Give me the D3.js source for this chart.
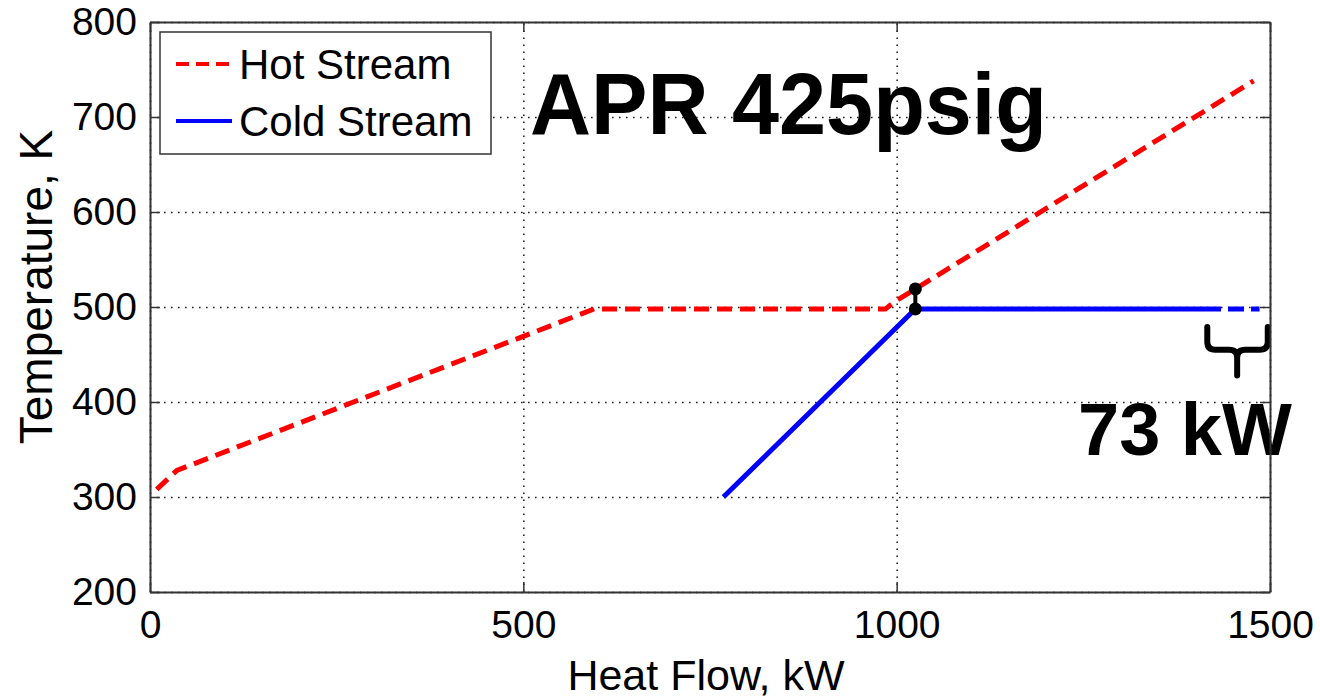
<!DOCTYPE html>
<html>
<head>
<meta charset="utf-8"/>
<script src="https://d3js.org/d3.v7.min.js"></script>
<style>
    body { margin: 0; background: #fff; }
    svg { font-family: "Liberation Sans", Arial, sans-serif; }
    .tick line { stroke: #333; stroke-width: 1.5; }
    .grid .tick line { stroke: #222; stroke-width: 1.6; stroke-dasharray: 1.6, 5.4; }
    .grid .domain { display: none; }
</style>
</head>
<body>
<svg width="1320" height="700"></svg>
<script>
    // datos
    const xTicks = [0, 500, 1000, 1500];
    const yTicks = [200, 300, 400, 500, 600, 700, 800];

    const hotQ = [9, 36, 595, 985, 1000, 1025, 1478];
    const hotT = [308, 328, 498, 498, 507, 519, 738];

    const coldQ = [768, 1025, 1413];
    const coldT = [300, 498, 498];

    // tramo de 73 kW (linea a trazos)
    const extraQ = [1413, 1486];
    const extraT = [498, 498];

    const pinchQ = 1025;
    const pinchT = [498, 519];

    const braceQ = [1416, 1456, 1497];
    const braceT = [479, 455, 428];

    const titleText = "APR 425psig";
    const noteText = "73 kW";
    const legendNames = ["Hot Stream", "Cold Stream"];

    const mLeft = 150, mRight = 1270, mTop = 22, mBottom = 592;

    const svg = d3.select("svg");

    let x = d3.scaleLinear().domain([0, 1500]).range([mLeft, mRight]);
    let y = d3.scaleLinear().domain([200, 800]).range([mBottom, mTop]);

    // rejilla punteada
    svg.append("g").attr("class", "grid")
        .attr("transform", "translate(0," + mBottom + ")")
        .call(d3.axisBottom(x).tickValues(xTicks).tickSize(-(mBottom - mTop)).tickFormat(""));
    svg.append("g").attr("class", "grid")
        .attr("transform", "translate(" + mLeft + ",0)")
        .call(d3.axisLeft(y).tickValues(yTicks).tickSize(-(mRight - mLeft)).tickFormat(""));

    // titulo y nota
    svg.append("text")
        .attr("x", 530).attr("y", 134)
        .attr("font-size", 88).attr("font-weight", "bold")
        .attr("textLength", 517).attr("lengthAdjust", "spacingAndGlyphs")
        .text(titleText);

    svg.append("text")
        .attr("x", 1078).attr("y", 455)
        .attr("font-size", 74).attr("font-weight", "bold")
        .text(noteText);

    // lineas
    const line = d3.line().x(d => x(d[0])).y(d => y(d[1]));

    svg.append("path")
        .attr("d", line(coldQ.map((q, i) => [q, coldT[i]])))
        .attr("fill", "none").attr("stroke", "#0000ff").attr("stroke-width", 5);

    svg.append("path")
        .attr("d", line(extraQ.map((q, i) => [q, extraT[i]])))
        .attr("fill", "none").attr("stroke", "#0000ff").attr("stroke-width", 5)
        .attr("stroke-dasharray", "16,7");

    svg.append("path")
        .attr("d", line(hotQ.map((q, i) => [q, hotT[i]])))
        .attr("fill", "none").attr("stroke", "#ff0000").attr("stroke-width", 5)
        .attr("stroke-dasharray", "15,8");

    // pinch
    svg.append("line")
        .attr("x1", x(pinchQ)).attr("x2", x(pinchQ))
        .attr("y1", y(pinchT[0])).attr("y2", y(pinchT[1]))
        .attr("stroke", "#000").attr("stroke-width", 4);
    svg.selectAll(".pinch").data(pinchT).join("circle")
        .attr("class", "pinch")
        .attr("cx", x(pinchQ)).attr("cy", d => y(d)).attr("r", 6.5)
        .attr("fill", "#000");

    // llave bajo el tramo de 73 kW
    const bx0 = x(braceQ[0]), bxm = x(braceQ[1]), bx1 = x(braceQ[2]);
    const by0 = y(braceT[0]), bym = y(braceT[1]), by1 = y(braceT[2]);
    const r = 8;
    const p = d3.path();
    p.moveTo(bx0, by0);
    p.lineTo(bx0, bym - r);
    p.quadraticCurveTo(bx0, bym, bx0 + r, bym);
    p.lineTo(bxm - r, bym);
    p.quadraticCurveTo(bxm, bym, bxm, bym + r);
    p.lineTo(bxm, by1);
    p.moveTo(bxm, bym + r);
    p.quadraticCurveTo(bxm, bym, bxm + r, bym);
    p.lineTo(bx1 - r, bym);
    p.quadraticCurveTo(bx1, bym, bx1, bym - r);
    p.lineTo(bx1, by0);
    svg.append("path").attr("d", p.toString())
        .attr("fill", "none").attr("stroke", "#000").attr("stroke-width", 6)
        .attr("stroke-linecap", "round");

    // ejes con marcas hacia dentro
    const xAxis = svg.append("g")
        .attr("transform", "translate(0," + mBottom + ")")
        .call(d3.axisBottom(x).tickValues(xTicks).tickFormat(d3.format("d"))
            .tickSizeInner(-10).tickSizeOuter(0).tickPadding(18));
    const yAxis = svg.append("g")
        .attr("transform", "translate(" + mLeft + ",0)")
        .call(d3.axisLeft(y).tickValues(yTicks).tickFormat(d3.format("d"))
            .tickSizeInner(-10).tickSizeOuter(0).tickPadding(13));
    svg.append("g")
        .attr("transform", "translate(0," + mTop + ")")
        .call(d3.axisTop(x).tickValues(xTicks).tickSizeInner(-10).tickSizeOuter(0).tickFormat(""));
    svg.append("g")
        .attr("transform", "translate(" + mRight + ",0)")
        .call(d3.axisRight(y).tickValues(yTicks).tickSizeInner(-10).tickSizeOuter(0).tickFormat(""));

    svg.selectAll(".domain").filter(function () { return !this.parentNode.classList.contains("grid"); })
        .attr("stroke", "#333").attr("stroke-width", 2);

    [xAxis, yAxis].forEach(a => a.selectAll("text")
        .attr("font-size", 39).attr("fill", "#000")
        .attr("font-family", "Liberation Sans, Arial, sans-serif"));

    // etiquetas de ejes
    svg.append("text")
        .attr("x", (mLeft + mRight) / 2 - 4).attr("y", 690)
        .attr("text-anchor", "middle").attr("font-size", 43)
        .text("Heat Flow, kW");
    svg.append("text")
        .attr("transform", "translate(52," + 287 + ") rotate(-90)")
        .attr("text-anchor", "middle").attr("font-size", 46)
        .text("Temperature, K");

    // leyenda
    const lg = svg.append("g");
    lg.append("rect")
        .attr("x", 160).attr("y", 32).attr("width", 331).attr("height", 122)
        .attr("fill", "#fff").attr("stroke", "#333").attr("stroke-width", 1.5);
    const legendStyle = [
        {color: "#ff0000", dash: "13,7"},
        {color: "#0000ff", dash: null}
    ];
    legendNames.forEach((name, i) => {
        const yy = 64 + i * 57;
        lg.append("line")
            .attr("x1", 176).attr("x2", 232).attr("y1", yy).attr("y2", yy)
            .attr("stroke", legendStyle[i].color).attr("stroke-width", 4)
            .attr("stroke-dasharray", legendStyle[i].dash);
        lg.append("text")
            .attr("x", 239).attr("y", yy + 15)
            .attr("font-size", 42)
            .text(name);
    });
</script>
</body>
</html>
